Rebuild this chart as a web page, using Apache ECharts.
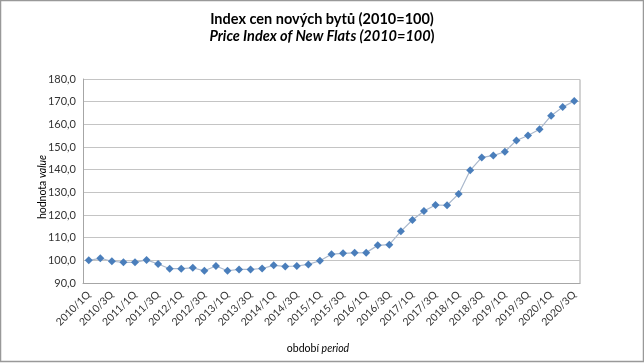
<!DOCTYPE html>
<html>
<head>
<meta charset="utf-8">
<script src="https://cdn.jsdelivr.net/npm/echarts@6/dist/echarts.min.js"></script>
<style>
html,body{margin:0;padding:0;background:#fff;}
#c{width:644px;height:363px;}
</style>
</head>
<body>
<div id="c"></div>
<script>
var years = [2010,2011,2012,2013,2014,2015,2016,2017,2018,2019,2020];
var categories = [];
years.forEach(function(y){ ['1Q','2Q','3Q','4Q'].forEach(function(q){ categories.push(y + '/' + q); }); });
categories = categories.slice(0, 43);
var values = [100.0,100.9,99.6,99.1,99.1,100.2,98.4,96.3,96.3,96.7,95.4,97.5,95.4,96.0,96.0,96.4,97.8,97.3,97.5,98.2,99.8,102.7,103.1,103.3,103.4,106.6,106.9,112.8,117.8,121.8,124.4,124.3,129.3,139.7,145.4,146.2,147.9,152.9,155.1,157.8,163.8,167.6,170.3];
var titleCz = 'Index cen nových bytů (2010=100)';
var titleEn = 'Price Index of New Flats (2010=100';
var yName = ['hodnota ', 'value'];
var xName = ['období ', 'period'];

var FONT = 'Lato, "Open Sans", sans-serif';
var chart = echarts.init(document.getElementById('c'));
chart.setOption({
  animation: false,
  title: {
    left: 'center', top: 6,
    text: '{b|' + titleCz + '}\n{i|' + titleEn + '}{n|)}',
    textStyle: {
      rich: {
        b: {fontFamily: FONT, fontSize: 14.5, fontWeight: 'bold', color: '#000', lineHeight: 17},
        i: {fontFamily: FONT, fontSize: 14.5, fontStyle: 'italic', color: '#000', lineHeight: 17},
        n: {fontFamily: FONT, fontSize: 14.5, color: '#000', lineHeight: 17}
      }
    }
  },
  grid: {left: 83, right: 64, top: 79, bottom: 80},
  xAxis: {
    type: 'category',
    data: categories,
    boundaryGap: true,
    axisLine: {show: true, lineStyle: {color: '#a6a6a6', width: 1}},
    axisTick: {show: false},
    axisLabel: {interval: 1, rotate: 45, fontFamily: FONT, fontSize: 10.5, color: '#333', margin: 10}
  },
  yAxis: {
    type: 'value', min: 90, max: 180, interval: 10,
    axisLine: {show: true, lineStyle: {color: '#a6a6a6', width: 1}},
    axisTick: {show: false},
    splitLine: {show: true, lineStyle: {color: '#c4c4c4', width: 1}},
    axisLabel: {fontFamily: FONT, fontSize: 11, color: '#333', margin: 7,
      formatter: function(v){ return v.toFixed(1).replace('.', ','); }}
  },
  series: [{
    type: 'line',
    data: values,
    symbol: 'diamond',
    symbolSize: 8,
    showAllSymbol: true,
    itemStyle: {color: '#4a7ebb'},
    lineStyle: {color: '#aab8cc', width: 1.2}
  }],
  graphic: [
    {type: 'rect', shape: {x: 83.5, y: 79.5, width: 496.5, height: 204}, style: {fill: 'none', stroke: '#a6a6a6', lineWidth: 1}, silent: true, z: 0},
    {type: 'rect', shape: {x: 0.5, y: 0.5, width: 643, height: 361}, style: {fill: 'none', stroke: '#999', lineWidth: 1.5}, silent: true},
    {type: 'text', x: 43, y: 187, rotation: Math.PI/2,
      style: {text: '{n|' + yName[0] + '}{i|' + yName[1] + '}', align: 'center', verticalAlign: 'middle',
        rich: {n: {fontFamily: FONT, fontSize: 10.5, color: '#000'}, i: {fontFamily: FONT, fontSize: 10.5, fontStyle: 'italic', color: '#000'}}}},
    {type: 'text', x: 318, y: 349,
      style: {text: '{n|' + xName[0] + '}{i|' + xName[1] + '}', align: 'center', verticalAlign: 'middle',
        rich: {n: {fontFamily: FONT, fontSize: 10.5, color: '#000'}, i: {fontFamily: FONT, fontSize: 10.5, fontStyle: 'italic', color: '#000'}}}}
  ]
});
</script>
</body>
</html>
